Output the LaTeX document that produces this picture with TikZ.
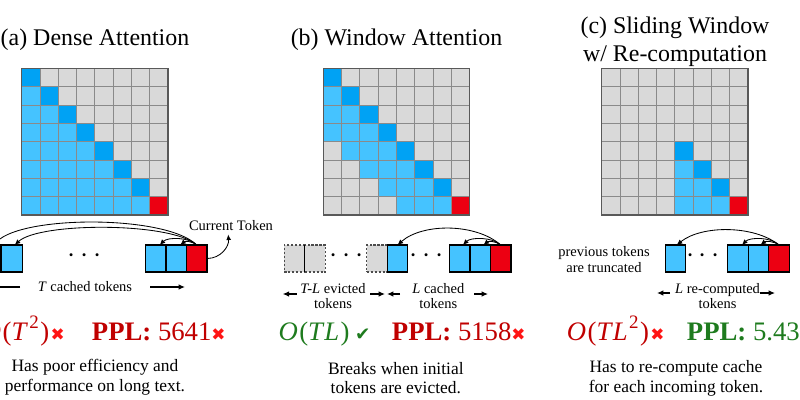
\documentclass[tikz,border=0pt]{standalone}
\usepackage{fontspec}
\setmainfont{Liberation Serif}
\newfontfamily\symfont{DejaVu Sans}
\usetikzlibrary{arrows.meta,positioning}

\definecolor{cellgray}{HTML}{D9D9D9}
\definecolor{celllight}{HTML}{45C3FF}
\definecolor{celldark}{HTML}{00A2F4}
\definecolor{cellred}{HTML}{EC0012}
\definecolor{gridline}{HTML}{8A8A8A}
\definecolor{badred}{HTML}{C00000}
\definecolor{xred}{HTML}{FF1414}
\definecolor{goodgreen}{HTML}{1E7B1E}

\newcommand{\xmark}{{\symfont\color{xred}\fontsize{12}{12}\selectfont ✖}}
\newcommand{\okmark}{{\symfont\color{goodgreen}\fontsize{13}{13}\selectfont ✔}}
\newcommand{\sq}{\raisebox{0.42em}{\fontsize{13.5}{13.5}\selectfont 2}}
\newcommand{\titlefont}{\fontsize{17}{20}\selectfont}
\newcommand{\costfont}{\fontsize{19}{22}\selectfont}
\newcommand{\notefont}{\fontsize{12.4}{14}\selectfont}
\newcommand{\labfont}{\fontsize{10.3}{11}\selectfont}
\newcommand{\dotfont}{\fontsize{21}{21}\selectfont}

\tikzset{
  cellbox/.style={draw=gridline, line width=0.6pt},
  gridborder/.style={draw=gray!70!black, line width=0.9pt},
  tok/.style={draw=black, line width=0.9pt, fill=celllight, minimum width=0.5125cm,
    minimum height=0.675cm, inner sep=0pt, outer sep=0pt},
  curtok/.style={tok, fill=cellred},
  evicted/.style={tok, fill=cellgray, draw=gray!60!black, dash pattern=on 1.6pt off 1.2pt},
  arc/.style={-{Latex[length=4pt,width=3.5pt]}, line width=0.6pt},
  dimarrow/.style={-{Latex[length=4.5pt,width=4pt]}, line width=0.9pt},
  lab/.style={font=\labfont, inner sep=0pt, align=center},
  note/.style={font=\notefont, inner sep=0pt, align=center},
  cost/.style={font=\costfont, inner sep=0pt},
  tokdots/.style={font=\dotfont, inner sep=0pt},
}

\begin{document}
\begin{tikzpicture}[x=0.025cm, y=-0.025cm]
\useasboundingbox (0,0) rectangle (800,400);
\clip (0,0) rectangle (800,400);

% titles
\node[font=\titlefont, anchor=base, inner sep=0pt] (titleA) at (95,45.7) {(a) Dense Attention};
\node[font=\titlefont, anchor=base, inner sep=0pt] (titleB) at (396.5,45.7) {(b) Window Attention};
\node[font=\titlefont, align=center, inner sep=0pt] (titleC) at (675,41.5) {(c) Sliding Window\\w/ Re-computation};

% attention grids
\foreach \r in {0,...,7}{
  \foreach \c in {0,...,7}{
    % dense
    \ifnum\c<\r \def\fc{celllight}\else\ifnum\c=\r \def\fc{celldark}\else\def\fc{cellgray}\fi\fi
    \filldraw[cellbox, fill=\fc] (21.7+\c*18.3, 68.5+\r*18.3) rectangle ++(18.3,18.3);
    % window
    \def\fc{cellgray}
    \ifnum\c=\r \def\fc{celldark}\fi
    \ifnum\c<\r \ifnum\c>\numexpr\r-4\relax \def\fc{celllight}\fi\fi
    \filldraw[cellbox, fill=\fc] (323.3+\c*18.3, 68.5+\r*18.3) rectangle ++(18.3,18.3);
    % sliding window
    \def\fc{cellgray}
    \ifnum\r>3 \ifnum\c=\r \def\fc{celldark}\fi\fi
    \ifnum\c>3 \ifnum\c<\r \def\fc{celllight}\fi\fi
    \filldraw[cellbox, fill=\fc] (601.7+\c*18.3, 68.5+\r*18.3) rectangle ++(18.3,18.3);
  }
}
\foreach \gx in {21.7,323.3,601.7}{
  \filldraw[cellbox, fill=cellred] (\gx+128.1, 196.6) rectangle ++(18.3,18.3);
  \draw[gridborder] (\gx,68.5) rectangle ++(146.4,146.4);
}

% (a) dense attention tokens
\node[tok] (a0) at (-9.3,258.5) {};
\node[tok] (a1) at (11.9,258.5) {};
\node[tokdots] (dotsA) at (85,256) {$\cdots$};
\node[tok] (a2) at (155.7,258.5) {};
\node[tok, right=0pt of a2] (a3) {};
\node[curtok, right=0pt of a3] (a4) {};

\draw[arc] (a4.north) .. controls +(-30,-30) and +(30,-30) .. ([xshift=0.07cm]a0.north);
\draw[arc] (a4.north) .. controls +(-25,-23) and +(25,-23) .. ([xshift=0.07cm]a1.north);
\draw[arc] (a4.north) .. controls +(-8,-8) and +(8,-8) .. ([xshift=0.1cm]a2.north);
\draw[arc] (a4.north) .. controls +(-5,-4) and +(5,-4) .. ([xshift=0.1cm]a3.north);

\node[lab, anchor=base] (curlab) at (231,230) {Current Token};
\draw[arc] (a4.east) .. controls +(14,0) and +(1,12) .. ([xshift=-0.07cm,yshift=-0.1cm]curlab.south);

\node[lab, anchor=base] (cachedA) at (85,291) {\textit{T} cached tokens};
\coordinate (cachedAL1) at (20,287);
\coordinate (cachedAL2) at (-15,287);
\coordinate (cachedAR1) at (150,287);
\coordinate (cachedAR2) at (185,287);
\draw[dimarrow] (cachedAL1) -- (cachedAL2);
\draw[dimarrow] (cachedAR1) -- (cachedAR2);

% (b) window attention tokens
\node[evicted] (e1) at (294.5,258.5) {};
\node[evicted, right=0pt of e1] (e2) {};
\draw[line width=0.9pt] (e1.north east) -- (e1.south east);
\node[tokdots] (dotsB1) at (346.7,256) {$\cdots$};
\node[evicted] (e3) at (377,258.5) {};
\node[tok, right=0pt of e3] (b1) {};
\node[tokdots] (dotsB2) at (426.7,256) {$\cdots$};
\node[tok] (b2) at (459.7,258.5) {};
\node[tok, right=0pt of b2] (b3) {};
\node[curtok, right=0pt of b3] (b4) {};

\draw[arc] (b4.north) .. controls +(-25,-22) and +(25,-22) .. (b1.north);
\draw[arc] (b4.north) .. controls +(-8,-8) and +(8,-8) .. ([xshift=0.08cm]b2.north);
\draw[arc] (b4.north) .. controls +(-5,-4) and +(5,-4) .. ([xshift=0.08cm]b3.north);

\node[lab] (evictB) at (333,296) {\textit{T-L} evicted\\tokens};
\node[lab] (cachedB) at (438.3,296) {\textit{L} cached\\tokens};
\coordinate (evictBL1) at (296.7,294);
\coordinate (evictBL2) at (282.7,294);
\coordinate (evictBR1) at (370,294);
\coordinate (evictBR2) at (385,294);
\coordinate (cachedBL1) at (400,294);
\coordinate (cachedBL2) at (387,294);
\coordinate (cachedBR1) at (474,294);
\coordinate (cachedBR2) at (488,294);
\draw[dimarrow] (evictBL1) -- (evictBL2);
\draw[dimarrow] (evictBR1) -- (evictBR2);
\draw[dimarrow] (cachedBL1) -- (cachedBL2);
\draw[dimarrow] (cachedBR1) -- (cachedBR2);

% (c) sliding window tokens
\node[tok] (c1) at (675.5,258.5) {};
\node[tokdots] (dotsC) at (703,256) {$\cdots$};
\node[tok] (c2) at (738,258.5) {};
\node[tok, right=0pt of c2] (c3) {};
\node[curtok, right=0pt of c3] (c4) {};

\draw[arc] (c4.north) .. controls +(-25,-20) and +(25,-20) .. ([xshift=0.03cm]c1.north);
\draw[arc] (c4.north) .. controls +(-8,-8) and +(8,-8) .. ([xshift=0.1cm]c2.north);
\draw[arc] (c4.north) .. controls +(-5,-4) and +(5,-4) .. ([xshift=0.05cm]c3.north);

\node[lab] (truncC) at (604,259.5) {previous tokens\\are truncated};
\node[lab] (recompC) at (717.5,296) {\textit{L} re-computed\\tokens};
\coordinate (recompCL1) at (670,293);
\coordinate (recompCL2) at (657,293);
\coordinate (recompCR1) at (760,293);
\coordinate (recompCR2) at (775,293);
\draw[dimarrow] (recompCL1) -- (recompCL2);
\draw[dimarrow] (recompCR1) -- (recompCR2);

% cost and perplexity
\node[cost, text=badred, anchor=base east] (costA) at (65,340)
  {\textit{O\/}\kern1pt(\textit{T}\kern1pt\sq\kern1pt)\kern1pt\xmark};
\node[cost, text=badred, anchor=base west] (pplA) at (91.7,340)
  {\textbf{PPL:} 5641\xmark};
\node[cost, text=goodgreen, anchor=base west] (costB) at (278.3,340)
  {\textit{O\/}\kern1pt(\textit{T\kern1pt L\/}\kern1pt)\kern4pt\okmark};
\node[cost, text=badred, anchor=base west] (pplB) at (391.7,340)
  {\textbf{PPL:} 5158\xmark};
\node[cost, text=badred, anchor=base west] (costC) at (566.7,340)
  {\textit{O\/}\kern1pt(\textit{T\kern1pt L}\kern1pt\sq\kern1pt)\kern1pt\xmark};
\node[cost, text=goodgreen, anchor=base west] (pplC) at (686.7,340)
  {\textbf{PPL:} 5.43};

% notes
\node[note] (noteA) at (95,377) {Has poor efficiency and\\performance on long text.};
\node[note] (noteB) at (395.8,378) {Breaks when initial\\tokens are evicted.};
\node[note] (noteC) at (676,378) {Has to re-compute cache\\for each incoming token.};
\end{tikzpicture}
\end{document}
